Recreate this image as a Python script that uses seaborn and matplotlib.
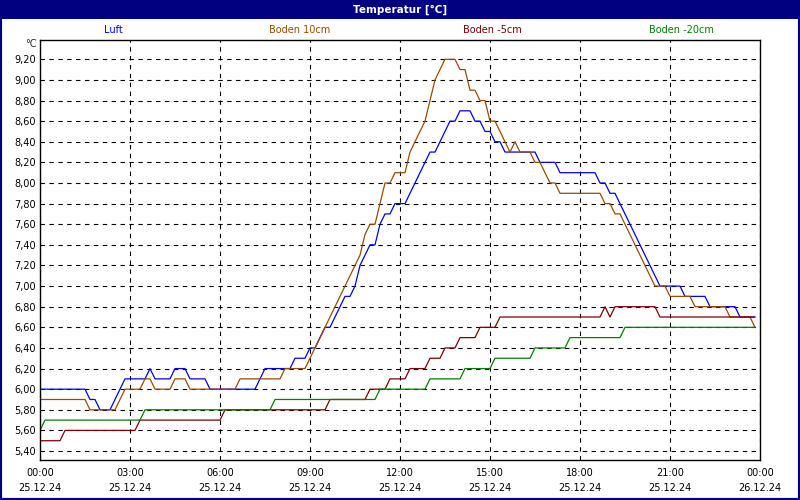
import numpy as np
import pandas as pd
import matplotlib
matplotlib.use("Agg")
import matplotlib.pyplot as plt
from matplotlib.patches import Rectangle
import seaborn as sns

# ---------------- data ----------------
title = "Temperatur [°C]"
unit_label = "°C"
series_names = ["Luft", "Boden 10cm", "Boden -5cm", "Boden -20cm"]
series_colors = ["#0000FF", "#994C00", "#800000", "#008000"]
start_time = "2024-12-25 00:00"
end_time = "2024-12-26 00:00"
sample_interval = "10min"

luft = [
    6.0, 6.0, 6.0, 6.0, 6.0, 6.0, 6.0, 6.0, 6.0, 6.0, 5.9, 5.9,
    5.8, 5.8, 5.8, 5.9, 6.0, 6.1, 6.1, 6.1, 6.1, 6.1, 6.2, 6.1,
    6.1, 6.1, 6.1, 6.2, 6.2, 6.2, 6.1, 6.1, 6.1, 6.1, 6.0, 6.0,
    6.0, 6.0, 6.0, 6.0, 6.0, 6.0, 6.0, 6.0, 6.1, 6.2, 6.2, 6.2,
    6.2, 6.2, 6.2, 6.3, 6.3, 6.3, 6.4, 6.4, 6.5, 6.6, 6.6, 6.7,
    6.8, 6.9, 6.9, 7.0, 7.2, 7.3, 7.4, 7.4, 7.6, 7.7, 7.7, 7.8,
    7.8, 7.8, 7.9, 8.0, 8.1, 8.2, 8.3, 8.3, 8.4, 8.5, 8.6, 8.6,
    8.7, 8.7, 8.7, 8.6, 8.6, 8.5, 8.5, 8.4, 8.4, 8.3, 8.3, 8.3,
    8.3, 8.3, 8.3, 8.3, 8.2, 8.2, 8.2, 8.2, 8.1, 8.1, 8.1, 8.1,
    8.1, 8.1, 8.1, 8.1, 8.0, 8.0, 7.9, 7.9, 7.8, 7.7, 7.6, 7.5,
    7.4, 7.3, 7.2, 7.1, 7.0, 7.0, 7.0, 7.0, 7.0, 6.9, 6.9, 6.9,
    6.9, 6.9, 6.8, 6.8, 6.8, 6.8, 6.8, 6.8, 6.7, 6.7, 6.7, 6.7,
]

boden_10 = [
    5.9, 5.9, 5.9, 5.9, 5.9, 5.9, 5.9, 5.9, 5.9, 5.9, 5.8, 5.8,
    5.8, 5.8, 5.8, 5.8, 5.9, 6.0, 6.0, 6.0, 6.0, 6.1, 6.1, 6.0,
    6.0, 6.0, 6.0, 6.1, 6.1, 6.1, 6.0, 6.0, 6.0, 6.0, 6.0, 6.0,
    6.0, 6.0, 6.0, 6.0, 6.1, 6.1, 6.1, 6.1, 6.1, 6.1, 6.1, 6.1,
    6.1, 6.2, 6.2, 6.2, 6.2, 6.2, 6.3, 6.4, 6.5, 6.6, 6.7, 6.8,
    6.9, 7.0, 7.1, 7.2, 7.3, 7.5, 7.6, 7.6, 7.8, 8.0, 8.0, 8.1,
    8.1, 8.1, 8.3, 8.4, 8.5, 8.6, 8.8, 9.0, 9.1, 9.2, 9.2, 9.2,
    9.1, 9.1, 8.9, 8.9, 8.8, 8.8, 8.6, 8.6, 8.5, 8.4, 8.3, 8.4,
    8.3, 8.3, 8.3, 8.2, 8.2, 8.1, 8.0, 8.0, 7.9, 7.9, 7.9, 7.9,
    7.9, 7.9, 7.9, 7.9, 7.9, 7.8, 7.8, 7.7, 7.7, 7.6, 7.5, 7.4,
    7.3, 7.2, 7.1, 7.0, 7.0, 7.0, 6.9, 6.9, 6.9, 6.9, 6.9, 6.8,
    6.8, 6.8, 6.8, 6.8, 6.8, 6.8, 6.7, 6.7, 6.7, 6.7, 6.7, 6.6,
]

boden_minus5 = [
    5.5, 5.5, 5.5, 5.5, 5.5, 5.6, 5.6, 5.6, 5.6, 5.6, 5.6, 5.6,
    5.6, 5.6, 5.6, 5.6, 5.6, 5.6, 5.6, 5.6, 5.7, 5.7, 5.7, 5.7,
    5.7, 5.7, 5.7, 5.7, 5.7, 5.7, 5.7, 5.7, 5.7, 5.7, 5.7, 5.7,
    5.7, 5.8, 5.8, 5.8, 5.8, 5.8, 5.8, 5.8, 5.8, 5.8, 5.8, 5.8,
    5.8, 5.8, 5.8, 5.8, 5.8, 5.8, 5.8, 5.8, 5.8, 5.8, 5.9, 5.9,
    5.9, 5.9, 5.9, 5.9, 5.9, 5.9, 6.0, 6.0, 6.0, 6.0, 6.1, 6.1,
    6.1, 6.1, 6.2, 6.2, 6.2, 6.2, 6.3, 6.3, 6.3, 6.4, 6.4, 6.4,
    6.5, 6.5, 6.5, 6.5, 6.6, 6.6, 6.6, 6.6, 6.7, 6.7, 6.7, 6.7,
    6.7, 6.7, 6.7, 6.7, 6.7, 6.7, 6.7, 6.7, 6.7, 6.7, 6.7, 6.7,
    6.7, 6.7, 6.7, 6.7, 6.7, 6.8, 6.7, 6.8, 6.8, 6.8, 6.8, 6.8,
    6.8, 6.8, 6.8, 6.8, 6.7, 6.7, 6.7, 6.7, 6.7, 6.7, 6.7, 6.7,
    6.7, 6.7, 6.7, 6.7, 6.7, 6.7, 6.7, 6.7, 6.7, 6.7, 6.7, 6.7,
]

boden_minus20 = [
    5.6, 5.7, 5.7, 5.7, 5.7, 5.7, 5.7, 5.7, 5.7, 5.7, 5.7, 5.7,
    5.7, 5.7, 5.7, 5.7, 5.7, 5.7, 5.7, 5.7, 5.7, 5.8, 5.8, 5.8,
    5.8, 5.8, 5.8, 5.8, 5.8, 5.8, 5.8, 5.8, 5.8, 5.8, 5.8, 5.8,
    5.8, 5.8, 5.8, 5.8, 5.8, 5.8, 5.8, 5.8, 5.8, 5.8, 5.8, 5.9,
    5.9, 5.9, 5.9, 5.9, 5.9, 5.9, 5.9, 5.9, 5.9, 5.9, 5.9, 5.9,
    5.9, 5.9, 5.9, 5.9, 5.9, 5.9, 5.9, 5.9, 6.0, 6.0, 6.0, 6.0,
    6.0, 6.0, 6.0, 6.0, 6.0, 6.0, 6.1, 6.1, 6.1, 6.1, 6.1, 6.1,
    6.1, 6.2, 6.2, 6.2, 6.2, 6.2, 6.2, 6.3, 6.3, 6.3, 6.3, 6.3,
    6.3, 6.3, 6.3, 6.4, 6.4, 6.4, 6.4, 6.4, 6.4, 6.4, 6.5, 6.5,
    6.5, 6.5, 6.5, 6.5, 6.5, 6.5, 6.5, 6.5, 6.5, 6.6, 6.6, 6.6,
    6.6, 6.6, 6.6, 6.6, 6.6, 6.6, 6.6, 6.6, 6.6, 6.6, 6.6, 6.6,
    6.6, 6.6, 6.6, 6.6, 6.6, 6.6, 6.6, 6.6, 6.6, 6.6, 6.6, 6.6,
]

y_ticks = [5.4, 5.6, 5.8, 6.0, 6.2, 6.4, 6.6, 6.8, 7.0, 7.2, 7.4, 7.6,
           7.8, 8.0, 8.2, 8.4, 8.6, 8.8, 9.0, 9.2]
x_tick_times = ["00:00", "03:00", "06:00", "09:00", "12:00", "15:00",
                "18:00", "21:00", "00:00"]
x_tick_dates = ["25.12.24", "25.12.24", "25.12.24", "25.12.24", "25.12.24",
                "25.12.24", "25.12.24", "25.12.24", "26.12.24"]

# ---------------- styling ----------------
sns.set_style("white")
plt.rcParams["font.family"] = ["DejaVu Sans"]
plt.rcParams["font.size"] = 7

navy = "#000080"

times = pd.date_range(start_time, periods=len(luft), freq=sample_interval)
all_values = [luft, boden_10, boden_minus5, boden_minus20]
df = pd.concat(
    [pd.DataFrame({"Zeit": times, "Temperatur": vals, "Reihe": name})
     for name, vals in zip(series_names, all_values)],
    ignore_index=True,
)

W, H = 800, 500
fig = plt.figure(figsize=(W / 100, H / 100), dpi=100)
fig.patch.set_facecolor("white")

ax = fig.add_axes([40 / W, 40 / H, 720 / W, 420 / H])
ax.set_facecolor("white")

sns.lineplot(
    data=df, x="Zeit", y="Temperatur", hue="Reihe",
    hue_order=series_names, palette=dict(zip(series_names, series_colors)),
    linewidth=0.9, legend=False, ax=ax, estimator=None,
)

ax.set_xlim(pd.Timestamp(start_time), pd.Timestamp(end_time))
ax.set_ylim(5.313, 9.387)

# y axis
ax.set_yticks(y_ticks)
ax.set_yticklabels([f"{v:.2f}".replace(".", ",") for v in y_ticks])
ax.tick_params(axis="y", length=0, pad=3, labelsize=7, colors="black")

# x axis
major_pos = pd.date_range(start_time, end_time, freq="3h")
minor_pos = pd.date_range(start_time, end_time, freq="1h")
ax.set_xticks(major_pos)
ax.set_xticklabels([f"{t}\n{d}" for t, d in zip(x_tick_times, x_tick_dates)],
                   linespacing=1.55)
ax.set_xticks(minor_pos, minor=True)
ax.tick_params(axis="x", which="both", length=3, width=0.8, direction="out",
               pad=3, labelsize=7, colors="black")
ax.set_xlabel("")
ax.set_ylabel("")

ax.grid(True, which="major", color="black", linestyle=(0, (4, 4)), linewidth=0.8)
ax.set_axisbelow(True)
for sp in ax.spines.values():
    sp.set_visible(True)
    sp.set_color("black")
    sp.set_linewidth(1.0)

# unit label
fig.text(37 / W, 1 - 44 / H, unit_label, ha="right", va="center", fontsize=7)

# legend texts
legend_x = [113, 300, 492, 681]
for name, col, lx in zip(series_names, series_colors, legend_x):
    fig.text(lx / W, 1 - 30 / H, name, color=col, ha="center", va="center", fontsize=7)

# title bar
fig.patches.append(Rectangle((0, 1 - 19 / H), 1, 19 / H, transform=fig.transFigure,
                             facecolor=navy, edgecolor="none", zorder=0))
fig.text(0.5, 1 - 10 / H, title, color="white", ha="center", va="center",
         fontsize=7.5, fontweight="bold")

# outer border
fig.patches.append(Rectangle((0, 0), 1, 1, transform=fig.transFigure,
                             facecolor="none", edgecolor=navy, linewidth=3, zorder=5))

fig.savefig("out.png", dpi=100)
